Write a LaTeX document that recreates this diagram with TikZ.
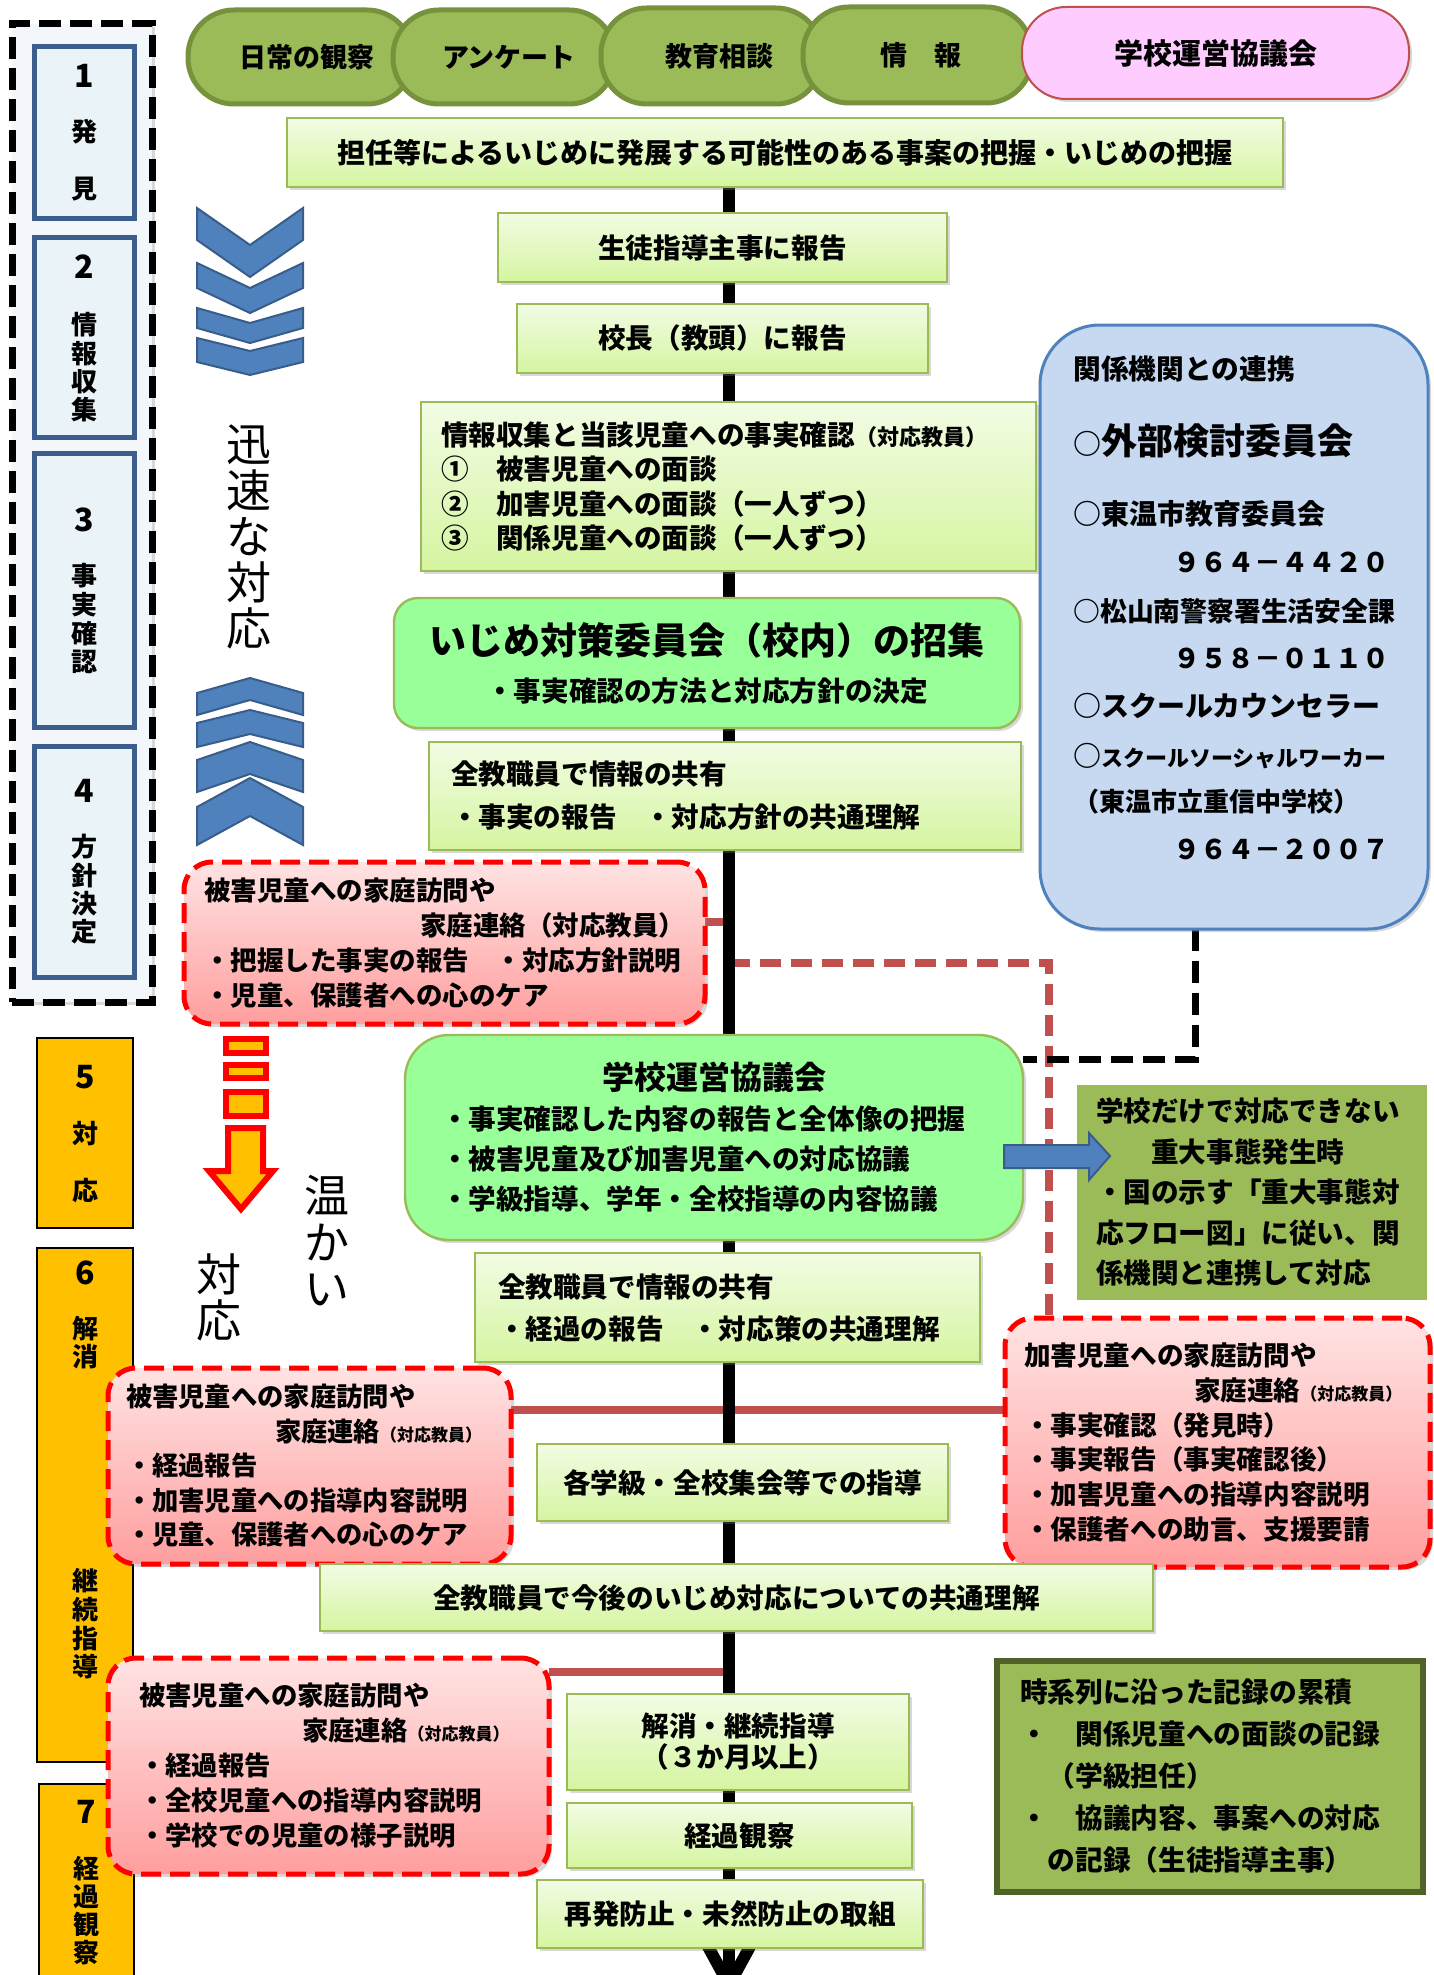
\documentclass[tikz,border=0pt]{standalone}
\usepackage{fontspec}
\setmainfont{Noto Sans CJK JP}
\usetikzlibrary{shadows,arrows.meta}
\newcommand\fsz[2]{\fontsize{#1pt}{#2pt}\selectfont}
\pgfdeclarelayer{bg}
\pgfdeclarelayer{paper}
\pgfsetlayers{paper,bg,main}
\definecolor{pillg}{HTML}{9BBB59}
\definecolor{pillb}{HTML}{76923C}
\definecolor{pinkp}{HTML}{FFCCFF}
\definecolor{redc}{HTML}{C0504D}
\definecolor{gtop}{HTML}{F2FCE4}
\definecolor{gbot}{HTML}{D5F5A0}
\definecolor{gbd}{HTML}{9BBB59}
\definecolor{brg}{HTML}{99FF99}
\definecolor{ptop}{HTML}{FFE3E3}
\definecolor{pbot}{HTML}{FF9E9E}
\definecolor{orng}{HTML}{FFC000}
\definecolor{chev}{HTML}{4F81BD}
\definecolor{chevb}{HTML}{385D8A}
\definecolor{sfill}{HTML}{EAF4F8}
\definecolor{sbd}{HTML}{3B5E8C}
\definecolor{outerf}{HTML}{F3F6FA}
\definecolor{blueb}{HTML}{C6D9F1}
\definecolor{kbd}{HTML}{4F6228}
\begin{document}
\begin{tikzpicture}[x=0.5pt,y=-0.5pt,font=\bfseries,
 R/.style n args={4}{at={(#1,#2)},anchor=north west,minimum width={(#3-#1)*0.5pt},minimum height={(#4-#2)*0.5pt},inner sep=0pt,outer sep=0pt},
 shd/.style={drop shadow={opacity=0.3,shadow xshift=1.5pt,shadow yshift=-1.5pt}},
 pill/.style={fill=pillg,draw=pillb,line width=2.5pt,rounded corners=23pt,font=\bfseries\fsz{13.5}{16}},
 gbox/.style={shd,top color=gtop,bottom color=gbot,draw=gbd,line width=1.2pt,font=\bfseries\fsz{13.8}{17}},
 bbox/.style={shd,fill=brg,draw=gbd,line width=1.2pt},
 pbox/.style={shd,top color=ptop,bottom color=pbot,draw=red,line width=2.5pt,dash pattern=on 10pt off 4.5pt,rounded corners=14pt},
 sbox/.style={fill=sfill,draw=sbd,line width=2.5pt},
 obox/.style={fill=orng,draw=black,line width=0.8pt},
 lab/.style={inner sep=0pt,align=center,font=\bfseries\fsz{13}{#1}},
 lab/.default=14.3,
 num/.style={inner sep=0pt,font=\bfseries\fsz{16}{18}},
 big/.style={inner sep=0pt,align=center,font=\mdseries\fsz{22.5}{#1}},
 ln/.style={anchor=base west,inner sep=0pt},
 redl/.style={draw=redc,line width=4pt},
 chevs/.style={fill=chev,draw=chevb,line width=1pt},
 oarr/.style={draw=red,line width=3pt,fill=orng}]
\useasboundingbox (0,0) rectangle (1434,1975);
\begin{pgfonlayer}{paper}
\fill[white] (0,0) rectangle (1434,1975);
\end{pgfonlayer}

% left stage column
\node[R={12}{24}{152}{1002},fill=outerf,draw=black,line width=3.5pt,dash pattern=on 11pt off 4.5pt,shd] (stages) {};
\node[sbox,R={34}{47}{134}{218}] (s1) {};
\node[sbox,R={34}{237}{134}{437}] (s2) {};
\node[sbox,R={34}{453}{134}{727}] (s3) {};
\node[sbox,R={34}{746}{134}{977}] (s4) {};
\node[obox,R={37}{1038}{133}{1228}] (o5) {};
\node[obox,R={37}{1248}{133}{1762}] (o6) {};
\node[obox,R={39}{1784}{134}{1995}] (o7) {};
\node[num] (l1) at (84,76) {1};
\node[lab=28.5] (l1t) at (84,160.5) {発\\見};
\node[num] (l2) at (84,267) {2};
\node[lab=14.17] (l2t) at (84,367.5) {情\\報\\収\\集};
\node[num] (l3) at (84,520) {3};
\node[lab=14.33] (l3t) at (84,619) {事\\実\\確\\認};
\node[num] (l4) at (84,791) {4};
\node[lab=14.17] (l4t) at (84,889.5) {方\\針\\決\\定};
\node[num] (l5) at (85,1077) {5};
\node[lab=28.5] (l5t) at (85,1162.5) {対\\応};
\node[num] (l6) at (85,1273) {6};
\node[lab=14] (l6t) at (85,1343) {解\\消};
\node[lab=14.33] (l6u) at (85,1624) {継\\続\\指\\導};
\node[num] (l7) at (86,1812) {7};
\node[lab=14] (l7t) at (86,1911) {経\\過\\観\\察};

% chevrons
\draw[chevs] (197,208) -- (250,245) -- (303,208) -- (303,240) -- (250,277) -- (197,240) -- cycle;
\draw[chevs] (197,263) -- (250,288) -- (303,263) -- (303,288) -- (250,313) -- (197,288) -- cycle;
\draw[chevs] (197,308) -- (250,323) -- (303,308) -- (303,328) -- (250,343) -- (197,328) -- cycle;
\draw[chevs] (197,338) -- (250,351) -- (303,338) -- (303,362) -- (250,375) -- (197,362) -- cycle;
\draw[chevs] (197,693) -- (250,678) -- (303,693) -- (303,715) -- (250,700) -- (197,715) -- cycle;
\draw[chevs] (197,723) -- (250,710) -- (303,723) -- (303,747) -- (250,734) -- (197,747) -- cycle;
\draw[chevs] (197,760) -- (250,742) -- (303,760) -- (303,792) -- (250,774) -- (197,792) -- cycle;
\draw[chevs] (197,807) -- (250,778) -- (303,807) -- (303,845) -- (250,816) -- (197,845) -- cycle;
\node[big=23.1] (v1) at (249,537) {迅\\速\\な\\対\\応};

% orange arrow
\draw[oarr] (226,1039) rectangle (266,1053);
\draw[oarr] (226,1065) rectangle (266,1078);
\draw[oarr] (226,1092) rectangle (266,1116);
\draw[oarr] (228,1128) -- (263,1128) -- (263,1171) -- (273,1171) -- (241,1209) -- (209,1171) -- (228,1171) -- cycle;
\node[big=23.25] (v2) at (327,1241) {温\\か\\い};
\node[big=23] (v3) at (219,1297) {対\\応};

% top pills
\node[pill,R={188}{10}{413}{104}] (p1) {\hspace*{6.5pt}日常の観察};
\node[pill,R={393}{10}{615}{104}] (p2) {\hspace*{5pt}アンケート};
\node[pill,R={601}{8}{822}{104}] (p3) {\hspace*{7.5pt}教育相談};
\node[pill,R={803}{7}{1032}{103}] (p4) {\hspace*{3.5pt}情　報};
\node[R={1022}{7}{1409}{99},shd,fill=pinkp,draw=redc,line width=1pt,rounded corners=22pt,font=\bfseries\fsz{14.5}{16}] (p5) {学校運営協議会};

% main flow
\node[gbox,R={287}{118}{1283}{187},font=\bfseries\fsz{14}{16}] (n1) {担任等によるいじめに発展する可能性のある事案の把握・いじめの把握};
\node[gbox,R={498}{213}{947}{282}] (n2) {生徒指導主事に報告};
\node[gbox,R={517}{304}{928}{373}] (n3) {校長（教頭）に報告};
\node[gbox,R={421}{402}{1036}{571},align=left,text width=287.5pt,font=\bfseries\fsz{13.8}{17.25}] (n4) {情報収集と当該児童への事実確認{\fsz{11}{17.25}（対応教員）}\\①　被害児童への面談\\②　加害児童への面談（一人ずつ）\\③　関係児童への面談（一人ずつ）};
\node[bbox,rounded corners=12pt,R={394}{598}{1020}{728},align=center,font=\bfseries\fsz{13.8}{23.5}] (n5) {{\fsz{18.5}{23.5}いじめ対策委員会（校内）の招集}\\・事実確認の方法と対応方針の決定};
\node[gbox,R={429}{742}{1021}{850},align=left,text width=274pt,font=\bfseries\fsz{13.8}{21.5}] (n6) {全教職員で情報の共有\\・事実の報告　・対応方針の共通理解};
\node[pbox,R={184}{862}{705}{1024},align=left,text width=240.5pt,font=\bfseries\fsz{13.25}{17.35}] (nA) {被害児童への家庭訪問や\\\hspace*{108pt}家庭連絡（対応教員）\\・把握した事実の報告　・対応方針説明\\・児童、保護者への心のケア};
\node[bbox,rounded corners=22pt,R={405}{1035}{1023}{1240},align=left,text width=273pt,font=\bfseries\fsz{13.8}{20}] (n7) {\makebox[273pt]{\fsz{16}{20}学校運営協議会}\\・事実確認した内容の報告と全体像の把握\\・被害児童及び加害児童への対応協議\\・学級指導、学年・全校指導の内容協議};
\node[R={1073}{1081}{1430}{1303},fill=pillg,draw=white,line width=3.5pt,shd,align=left,text width=155.5pt,font=\bfseries\fsz{13.8}{20.25}] (nJ) {学校だけで対応できない\\　　重大事態発生時\\・国の示す「重大事態対\\応フロー図」に従い、関\\係機関と連携して対応};
\node[gbox,R={475}{1253}{980}{1362},align=left,text width=229.5pt,font=\bfseries\fsz{13.8}{21}] (n8) {全教職員で情報の共有\\・経過の報告　・対応策の共通理解};
\node[pbox,R={1005}{1318}{1430}{1567},align=left,text width=193.5pt,font=\bfseries\fsz{13.3}{17.4}] (nB) {加害児童への家庭訪問や\\\hspace*{85pt}家庭連絡{\fsz{8.5}{17.4}（対応教員）}\\・事実確認（発見時）\\・事実報告（事実確認後）\\・加害児童への指導内容説明\\・保護者への助言、支援要請};
\node[pbox,R={108}{1368}{511}{1564},align=left,text width=183.5pt,font=\bfseries\fsz{13.15}{17.25}] (nC) {被害児童への家庭訪問や\\\hspace*{74.5pt}家庭連絡{\fsz{8.5}{17.25}（対応教員）}\\・経過報告\\・加害児童への指導内容説明\\・児童、保護者への心のケア};
\node[gbox,R={537}{1444}{948}{1521}] (n9) {各学級・全校集会等での指導};
\node[gbox,R={320}{1564}{1153}{1631}] (n10) {全教職員で今後のいじめ対応についての共通理解};
\node[pbox,R={108}{1658}{549}{1874},align=left,text width=189.5pt,font=\bfseries\fsz{13.2}{17.5}] (nD) {被害児童への家庭訪問や\\\hspace*{81.5pt}家庭連絡{\fsz{8.5}{17.5}（対応教員）}\\・経過報告\\・全校児童への指導内容説明\\・学校での児童の様子説明};
\node[gbox,R={567}{1694}{909}{1790},align=center,font=\bfseries\fsz{13.8}{15.5}] (n11) {解消・継続指導\\（３か月以上）};
\node[gbox,R={567}{1803}{912}{1868}] (n12) {経過観察};
\node[gbox,R={537}{1880}{923}{1948}] (n13) {再発防止・未然防止の取組};
\node[R={997}{1661}{1423}{1892},fill=pillg,draw=kbd,line width=3pt,align=left,text width=190pt,font=\bfseries\fsz{13.85}{21}] (nK) {時系列に沿った記録の累積\\・　関係児童への面談の記録\\　（学級担任）\\・　協議内容、事案への対応\\　の記録（生徒指導主事）};

% related agencies
\node[R={1040}{325}{1428}{929},fill=blueb,draw=chev,line width=1.5pt,rounded corners=30pt,shd] (nBlue) {};
\node[ln,font=\bfseries\fsz{13.85}{16}] (bl1) at (1073,379.5) {関係機関との連携};
\node[ln,font=\bfseries\fsz{18}{20}] (bl2) at (1073,454.7) {{\fsz{14}{16}○}外部検討委員会};
\node[ln,font=\bfseries\fsz{14}{16}] (bl3) at (1073,524.6) {○東温市教育委員会};
\node[ln,font=\bfseries\fsz{13.5}{16}] (bl4) at (1073,572.3) {\hspace*{50pt}９６４－４４２０};
\node[ln,font=\bfseries\fsz{13.4}{16}] (bl5) at (1073,621.3) {○松山南警察署生活安全課};
\node[ln,font=\bfseries\fsz{13.5}{16}] (bl6) at (1073,668.3) {\hspace*{50pt}９５８－０１１０};
\node[ln,font=\bfseries\fsz{14}{16}] (bl7) at (1073,716.6) {○スクールカウンセラー};
\node[ln,font=\bfseries\fsz{14}{16}] (bl8) at (1073,766.6) {○{\fsz{11}{16}スクールソーシャルワーカー}};
\node[ln,font=\bfseries\fsz{13}{16}] (bl9) at (1073,811) {（東温市立重信中学校）};
\node[ln,font=\bfseries\fsz{13.5}{16}] (bl10) at (1073,859.3) {\hspace*{50pt}９６４－２００７};

% block arrow
\coordinate (ba) at (1004,1156);
\draw[fill=chev,draw=chevb,line width=1pt] (ba) ++(0,-11) -- ++(85,0) -- ++(0,-12) -- ++(21,23) -- ++(-21,24) -- ++(0,-12) -- ++(-85,0) -- cycle;

% connectors
\coordinate (sp) at (729,0);
\coordinate (tip) at (729,1985);
\begin{pgfonlayer}{bg}
\draw[redl] (nA.east |- 0,922) -- (sp |- 0,922);
\draw[redl] (nC.east |- 0,1410) -- (nB.west |- 0,1410);
\draw[redl] (nD.east |- 0,1672) -- (sp |- 0,1672);
\draw[draw=redc,line width=4pt,dash pattern=on 10.5pt off 5pt] (sp |- 0,963) -| ([xshift=22pt]nB.north west);
\draw[black,line width=3.5pt,dash pattern=on 11pt off 5pt] ([xshift=-19.5pt]nBlue.south) |- (n7.east |- 0,1059);
\draw[line width=6pt] (n1.south -| sp) -- (tip);
\draw[line width=6pt] (tip) ++(-30,-55) -- (tip) -- ++(30,-55);
\end{pgfonlayer}
\end{tikzpicture}
\end{document}
